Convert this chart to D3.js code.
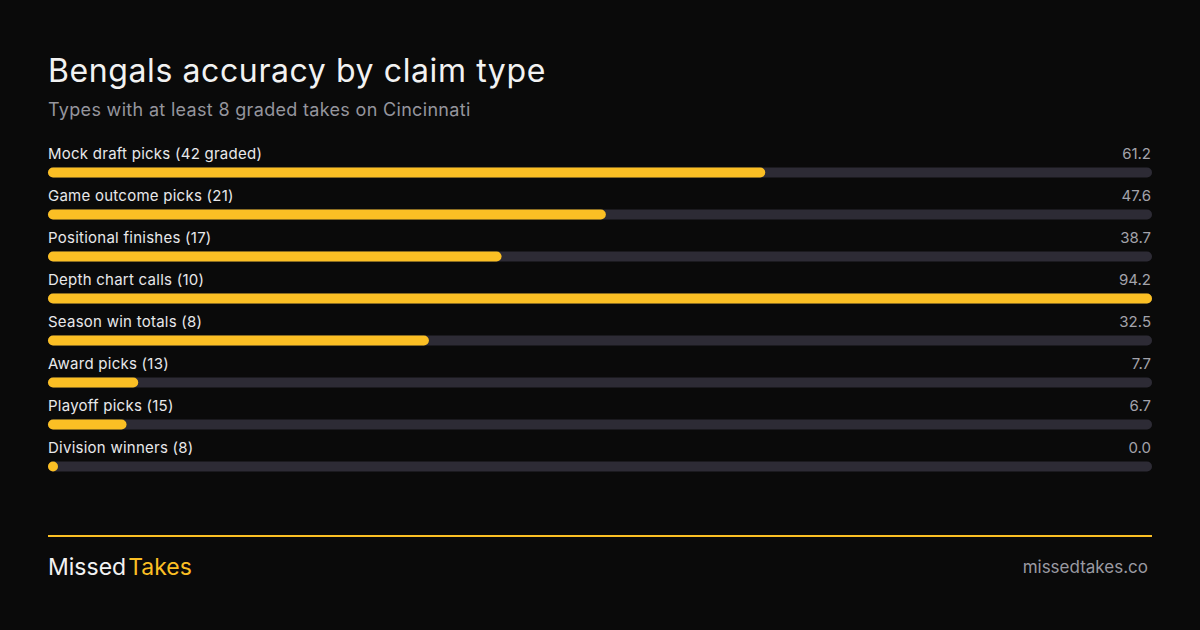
<!DOCTYPE html>
<html>
<head>
<meta charset="utf-8">
<script src="https://cdn.jsdelivr.net/npm/d3@7"></script>
<style>
  html, body { margin: 0; padding: 0; background: #0a0a0a; }
  svg { display: block; font-family: Inter, "Noto Sans", sans-serif; }
</style>
</head>
<body>
<div id="chart"></div>
<script>
let width = 1200
let height = 630
let left = 48
let right = 1152

let categories = ["Mock draft picks (42 graded)", "Game outcome picks (21)", "Positional finishes (17)",
                  "Depth chart calls (10)", "Season win totals (8)", "Award picks (13)",
                  "Playoff picks (15)", "Division winners (8)"]
let accuracy = [61.2, 47.6, 38.7, 94.2, 32.5, 7.7, 6.7, 0.0]

let amber = "#fbbf24"

let svg = d3.select("#chart")
            .append("svg")
            .attr("width", width)
            .attr("height", height)

svg.append("rect").attr("width", width).attr("height", height).attr("fill", "#0a0a0a")

svg.append("text")
    .attr("x", left).attr("y", 82)
    .attr("fill", "#f2f2f2")
    .attr("font-size", 32)
    .attr("letter-spacing", 0.6)
    .text("Bengals accuracy by claim type")

svg.append("text")
    .attr("x", left).attr("y", 116)
    .attr("fill", "#95959d")
    .attr("font-size", 18)
    .attr("letter-spacing", 0.32)
    .text("Types with at least 8 graded takes on Cincinnati")

// bars scale to the best category, not to 100
let xScale = d3.scaleLinear()
    .domain([0, d3.max(accuracy)])
    .range([0, right - left])

let yScale = d3.scaleBand()
    .domain(categories)
    .range([143, 143 + 42 * categories.length])

let barH = 10

let rows = svg.selectAll("g.row")
    .data(categories)
    .enter()
    .append("g")
    .attr("class", "row")
    .attr("transform", function(d) { return "translate(0," + yScale(d) + ")" })

rows.append("text")
    .attr("x", left).attr("y", 16)
    .attr("fill", "#e8e8ea")
    .attr("font-size", 15)
    .attr("letter-spacing", 0.25)
    .text(function(d) { return d })

rows.append("text")
    .attr("x", right - 1).attr("y", 16)
    .attr("text-anchor", "end")
    .attr("fill", "#a3a3ab")
    .attr("font-size", 15)
    .text(function(d, i) { return accuracy[i].toFixed(1) })

rows.append("rect") // track
    .attr("x", left).attr("y", 24.5)
    .attr("width", right - left).attr("height", barH)
    .attr("rx", barH / 2)
    .attr("fill", "#2d2b35")

rows.append("rect")
    .attr("x", left).attr("y", 24.5)
    .attr("width", function(d, i) { return Math.max(barH, xScale(accuracy[i])) })
    .attr("height", barH)
    .attr("rx", barH / 2)
    .attr("fill", amber)

svg.append("rect")
    .attr("x", left).attr("y", 535)
    .attr("width", right - left).attr("height", 2)
    .attr("fill", amber)

let brand = svg.append("text")
    .attr("x", left).attr("y", 575)
    .attr("font-size", 23)
brand.append("tspan").attr("fill", "#f2f2f2").text("Missed")
brand.append("tspan").attr("fill", amber).attr("dx", 2).text("Takes")

svg.append("text")
    .attr("x", 1148).attr("y", 573)
    .attr("text-anchor", "end")
    .attr("fill", "#9a9aa2")
    .attr("font-size", 17)
    .text("missedtakes.co")
</script>
</body>
</html>
